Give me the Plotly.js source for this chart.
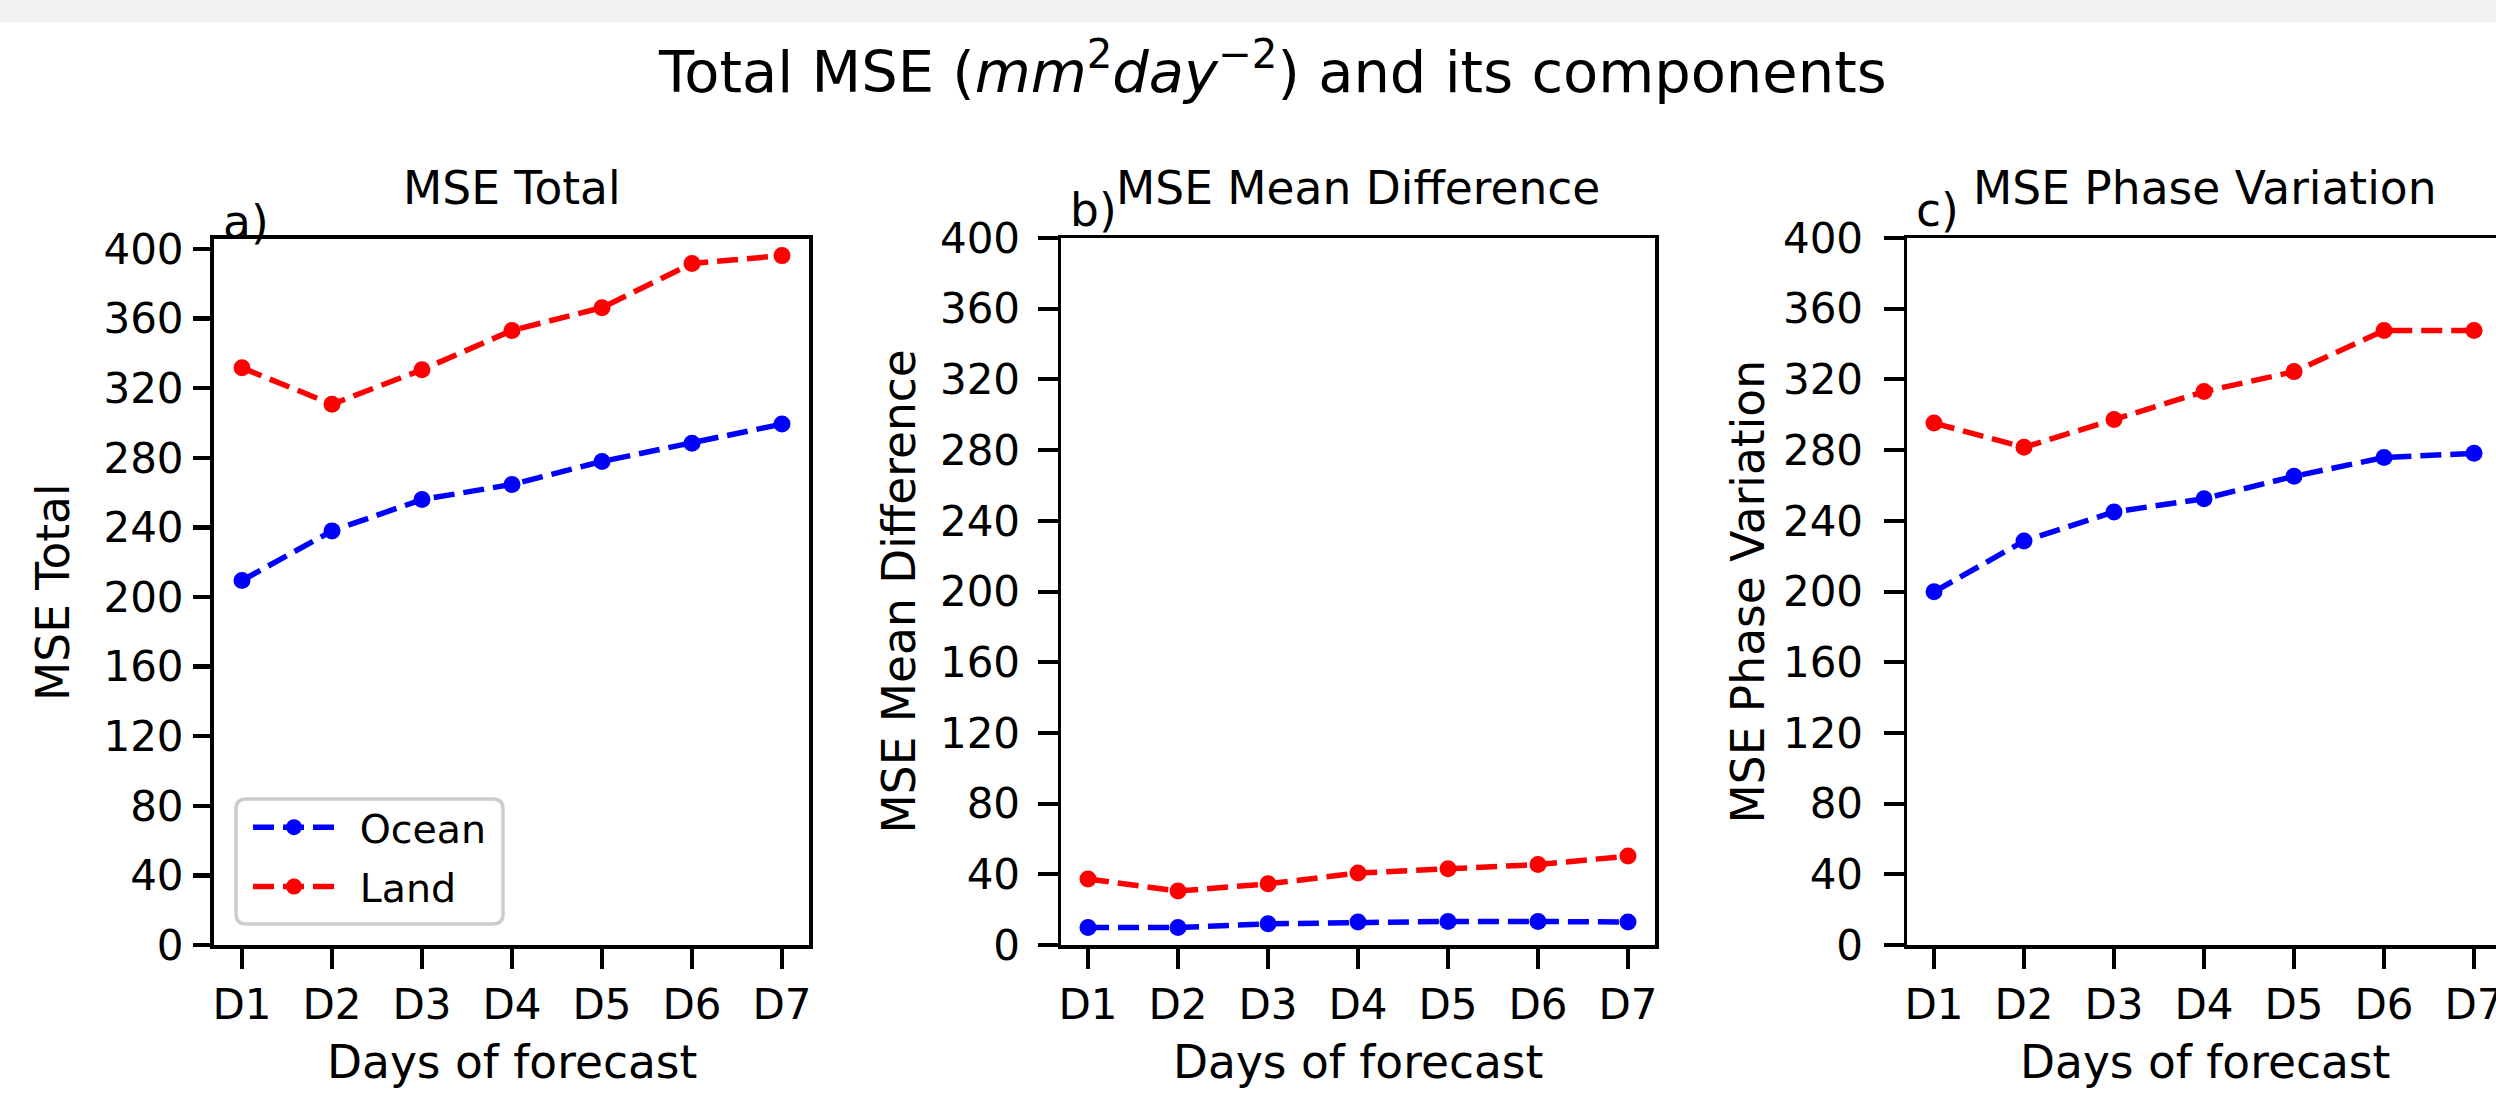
<!DOCTYPE html>
<html><head><meta charset="utf-8">
<script src="https://cdn.plot.ly/plotly-3.0.1.min.js"></script>
<style>html,body{margin:0;padding:0;background:#fff;} #chart{width:2496px;height:1098px;}</style>
</head><body><div id="chart"></div>
<script>
// ---- data ----
const days = ['D1','D2','D3','D4','D5','D6','D7'];
const yTicks = [0,40,80,120,160,200,240,280,320,360,400];
const seriesNames = ['Ocean','Land'];
const totalOcean = [209.5, 238.0, 256.0, 264.7, 277.9, 288.3, 299.4];
const totalLand  = [331.7, 310.8, 330.6, 353.2, 366.3, 391.7, 396.2];
const meanDiffOcean = [9.9, 9.9, 12.0, 13.0, 13.3, 13.3, 13.0];
const meanDiffLand  = [37.3, 30.5, 34.6, 40.7, 43.1, 45.5, 50.3];
const phaseOcean = [199.8, 228.6, 245.0, 252.5, 265.2, 275.8, 278.2];
const phaseLand  = [295.3, 281.6, 297.3, 313.1, 324.4, 347.7, 347.7];
const panelTitles = ['MSE Total','MSE Mean Difference','MSE Phase Variation'];
const panelTags = ['a)','b)','c)'];
const xLabel = 'Days of forecast';
const mainTitle = 'Total MSE (<i>mm</i><sup>2</sup><i>day</i><sup>\u22122</sup>) and its components';

// ---- layout helpers ----
const W = 2496, H = 1098;
const fx = p => p / W;
const fy = p => 1 - p / H;
const FONT = 'DejaVu Sans, sans-serif';
const colors = ['#0000ff', '#ff0000'];
const TICK = 42, LAB = 45.5;

const panels = [
  {left:214, right:809, top:239, bottom:945, xr:[-0.311, 6.3], yr:[0, 405.75], lw:4, tl:17, tw:4.5, ystand:1, mirrorY:true, tagY:222, data:[totalOcean, totalLand]},
  {left:1061, right:1655, top:238, bottom:945, xr:[-0.3, 6.3], yr:[0, 400], lw:3.5, tl:20, tw:4, ystand:9, mirrorY:true, tagY:211, data:[meanDiffOcean, meanDiffLand]},
  {left:1907, right:2496, top:238, bottom:945, xr:[-0.3, 6.244], yr:[0, 400], lw:3.5, tl:20, tw:4, ystand:12, mirrorY:false, tagY:210, data:[phaseOcean, phaseLand]}
];

const traces = [];
const layout = {
  width: W, height: H,
  margin: {l:0, r:0, t:0, b:0, pad:0},
  paper_bgcolor: '#ffffff', plot_bgcolor: '#ffffff',
  font: {family: FONT, color: '#000'},
  showlegend: true,
  legend: {x: fx(248), y: fy(795), xanchor:'left', yanchor:'top', bgcolor:'rgba(0,0,0,0)', borderwidth:0,
           font:{family:FONT, size:39.5, color:'#000'}, itemwidth: 82, tracegroupgap: 5},
  annotations: [],
  shapes: []
};

panels.forEach((p, i) => {
  const sfx = i === 0 ? '' : String(i + 1);
  p.data.forEach((vals, k) => {
    traces.push({
      x: days, y: vals, xaxis: 'x' + sfx, yaxis: 'y' + sfx,
      type: 'scatter', mode: 'lines+markers', name: '\u2002' + seriesNames[k],
      legendgroup: seriesNames[k] + sfx,
      showlegend: i === 0,
      line: {color: colors[k], width: 5.5, dash: '21px,9px'},
      marker: {color: colors[k], size: 17},
      hoverinfo: 'skip'
    });
  });
  layout['xaxis' + sfx] = {
    domain: [fx(p.left), fx(p.right)], range: p.xr, type: 'category', anchor: 'y' + sfx,
    showline: true, linecolor: '#000', linewidth: p.lw, mirror: true,
    ticks: 'outside', ticklen: 20, tickwidth: 4, tickcolor: '#000',
    showgrid: false, zeroline: false, fixedrange: true,
    tickfont: {family: FONT, size: TICK, color: '#000'}
  };
  layout['yaxis' + sfx] = {
    domain: [fy(p.bottom), fy(p.top)], range: p.yr, anchor: 'x' + sfx,
    tickmode: 'array', tickvals: yTicks, ticktext: yTicks.map(String),
    showline: true, linecolor: '#000', linewidth: p.lw, mirror: p.mirrorY,
    ticks: 'outside', ticklen: p.tl, tickwidth: p.tw, tickcolor: '#000', ticklabelstandoff: p.ystand,
    showgrid: false, zeroline: false, fixedrange: true,
    tickfont: {family: FONT, size: TICK, color: '#000'}
  };
  const cx = i === 2 ? 2205 : (p.left + p.right) / 2;
  layout.annotations.push(
    {text: panelTitles[i], x: fx(cx), y: fy(189), xref:'paper', yref:'paper', xanchor:'center', yanchor:'middle', showarrow:false, font:{family:FONT, size:LAB, color:'#000'}},
    {text: panelTags[i], x: fx(p.left + 7), y: fy(p.tagY), xref:'paper', yref:'paper', xanchor:'left', yanchor:'middle', showarrow:false, font:{family:FONT, size:LAB, color:'#000'}},
    {text: xLabel, x: fx(cx), y: fy(1062), xref:'paper', yref:'paper', xanchor:'center', yanchor:'middle', showarrow:false, font:{family:FONT, size:LAB, color:'#000'}},
    {text: panelTitles[i], x: fx([53, 899, 1748][i]), y: fy((p.top + p.bottom) / 2), xref:'paper', yref:'paper', xanchor:'center', yanchor:'middle', textangle: -90, showarrow:false, font:{family:FONT, size:LAB, color:'#000'}}
  );
});

layout.annotations.push({text: mainTitle, x: fx(1272), y: fy(68), xref:'paper', yref:'paper', xanchor:'center', yanchor:'middle', showarrow:false, font:{family:FONT, size:57.5, color:'#000'}});

// grey band at top
layout.shapes.push({type:'rect', xref:'paper', yref:'paper', x0:0, x1:1, y0:fy(22), y1:1, fillcolor:'#f2f2f2', line:{width:0}, layer:'above'});

// rounded legend frame
function roundRect(x0, y0, x1, y1, r) {
  return `M ${fx(x0 + r)},${fy(y0)} L ${fx(x1 - r)},${fy(y0)} Q ${fx(x1)},${fy(y0)} ${fx(x1)},${fy(y0 + r)} ` +
         `L ${fx(x1)},${fy(y1 - r)} Q ${fx(x1)},${fy(y1)} ${fx(x1 - r)},${fy(y1)} ` +
         `L ${fx(x0 + r)},${fy(y1)} Q ${fx(x0)},${fy(y1)} ${fx(x0)},${fy(y1 - r)} ` +
         `L ${fx(x0)},${fy(y0 + r)} Q ${fx(x0)},${fy(y0)} ${fx(x0 + r)},${fy(y0)} Z`;
}
layout.shapes.push({type:'path', xref:'paper', yref:'paper', path: roundRect(236, 799, 503, 924, 10),
  fillcolor:'rgba(255,255,255,0.8)', line:{color:'#cccccc', width:3.5}, layer:'above'});

Plotly.newPlot('chart', traces, layout, {staticPlot: true, displayModeBar: false});
</script>
</body></html>
